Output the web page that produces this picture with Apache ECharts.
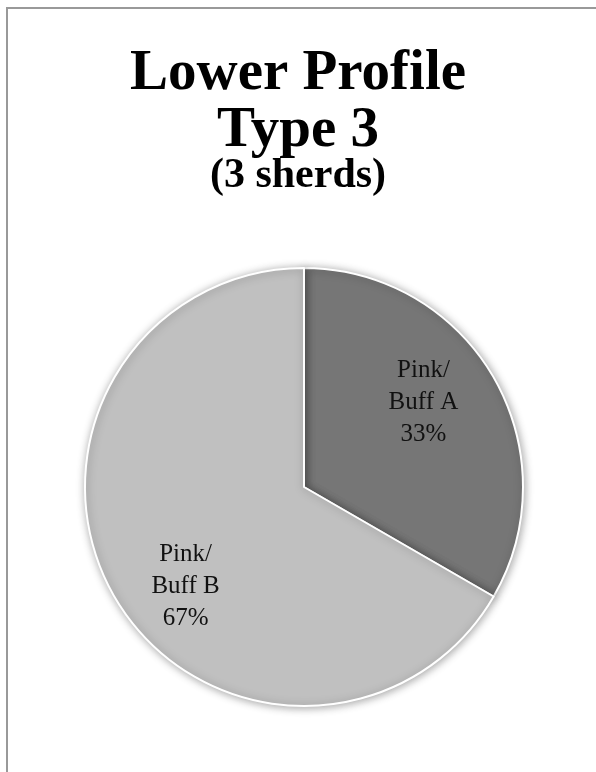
<!DOCTYPE html>
<html>
<head>
<meta charset="utf-8">
<script src="https://cdn.jsdelivr.net/npm/echarts@6/dist/echarts.min.js"></script>
<style>
html, body { margin: 0; padding: 0; background: #fff; }
#main { width: 596px; height: 772px; }
</style>
</head>
<body>
<div id="main"></div>
<script>
var categories = ['Pink/\nBuff A', 'Pink/\nBuff B'];
var sherds = [1, 2];
var colors = ['#767676', '#c0c0c0'];
// nudges so labels sit where the original put them
var labelShift = [[22, -28], [-21, 43]];

var serif = 'Georgia, "Liberation Serif", serif';
var mychart = echarts.init(document.getElementById('main'));

var pieData = [];
for (var i = 0; i < categories.length; i++) {
    pieData.push({ name: categories[i], value: sherds[i], itemStyle: { color: colors[i] } });
}

option = {
    backgroundColor: '#fff',
    animation: false,
    title: [
        {
            text: 'Lower Profile\nType 3',
            left: 'center',
            top: 41,
            textStyle: { fontFamily: serif, fontWeight: 'bold', fontSize: 57, lineHeight: 57, color: '#000' }
        },
        {
            text: '(3 sherds)',
            left: 'center',
            top: 150,
            textStyle: { fontFamily: serif, fontWeight: 'bold', fontSize: 42, lineHeight: 42, color: '#000' }
        }
    ],
    graphic: [{
        type: 'rect',
        shape: { x: 7, y: 8, width: 700, height: 900 },
        style: { fill: 'none', stroke: '#999', lineWidth: 2 },
        silent: true
    }],
    series: [{
        type: 'pie',
        center: [304, 487],
        radius: 219,
        startAngle: 90,
        clockwise: true,
        percentPrecision: 0,
        data: pieData,
        itemStyle: {
            borderColor: '#fff',
            borderWidth: 2,
            shadowBlur: 8,
            shadowColor: 'rgba(0,0,0,0.35)',
            shadowOffsetX: 1,
            shadowOffsetY: 1
        },
        label: {
            show: true,
            position: 'inside',
            formatter: '{b}\n{d}%',
            fontFamily: serif,
            fontSize: 25,
            lineHeight: 32,
            color: '#111',
            align: 'center'
        },
        labelLine: { show: false },
        labelLayout: function (params) {
            var s = labelShift[params.dataIndex];
            return { dx: s[0], dy: s[1] };
        },
        emphasis: { disabled: true }
    }]
};
mychart.setOption(option);
</script>
</body>
</html>
